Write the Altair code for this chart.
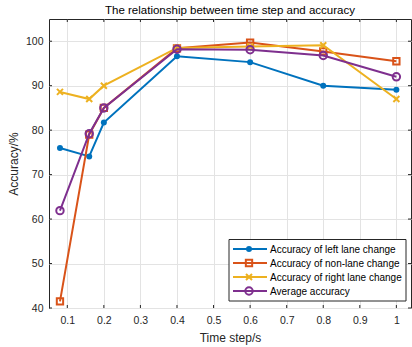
import altair as alt
import pandas as pd

# ---- data ----
time_steps = [0.08, 0.16, 0.2, 0.4, 0.6, 0.8, 1.0]
left_acc = [76.0, 74.1, 81.7, 96.6, 95.3, 90.0, 89.1]
non_acc = [41.5, 79.0, 85.0, 98.4, 99.7, 97.7, 95.5]
right_acc = [88.6, 87.0, 90.0, 98.5, 98.8, 99.1, 87.0]
avg_acc = [61.9, 79.2, 85.0, 98.2, 98.1, 96.8, 92.0]

series_names = [
    "Accuracy of left lane change",
    "Accuracy of non-lane change",
    "Accuracy of right lane change",
    "Average accuracy",
]
series_values = [left_acc, non_acc, right_acc, avg_acc]
colors = ["#0072BD", "#D95319", "#EDB120", "#7E2F8E"]
x_ticks = [0.1, 0.2, 0.3, 0.4, 0.5, 0.6, 0.7, 0.8, 0.9, 1.0]
y_ticks = [40, 50, 60, 70, 80, 90, 100]

XMARK = "M-1,-1L1,1M-1,1L1,-1"
shapes = ["circle", "square", XMARK, "circle"]
filled = [True, False, False, False]
sizes = [36, 40, 36, 55]

W, H = 362, 289
FONT = "Liberation Sans"
AX = "#262626"

rows = []
for name, vals in zip(series_names, series_values):
    for t, v in zip(time_steps, vals):
        rows.append({"t": t, "acc": v, "series": name})
df = pd.DataFrame(rows)

xscale = alt.Scale(domain=[0.05, 1.04], nice=False, zero=False)
yscale = alt.Scale(domain=[40, 105], nice=False, zero=False)

xenc = alt.X(
    "t:Q", scale=xscale,
    axis=alt.Axis(values=x_ticks, format="~g", title="Time step/s",
                  grid=True, gridColor="#e3e3e3", tickSize=0, domain=False,
                  labelPadding=7, titlePadding=7, labelFlush=False),
)
yenc = alt.Y(
    "acc:Q", scale=yscale,
    axis=alt.Axis(values=y_ticks, title="Accuracy/%", grid=True,
                  gridColor="#e3e3e3", tickSize=0, domain=False,
                  labelPadding=6, titlePadding=5),
)

layers = []
for i, name in enumerate(series_names):
    base = alt.Chart(df).transform_filter(alt.datum.series == name)
    layers.append(base.mark_line(color=colors[i], strokeWidth=2).encode(x=xenc, y=yenc))
    layers.append(
        base.mark_point(shape=shapes[i], color=colors[i], filled=filled[i],
                        size=sizes[i], strokeWidth=2, opacity=1)
        .encode(x="t:Q", y="acc:Q")
    )

# inner tick marks on all four sides
xt = pd.DataFrame({"v": x_ticks})
yt = pd.DataFrame({"v": y_ticks})
tick_layers = [
    alt.Chart(xt).mark_rule(color=AX, strokeWidth=1).encode(
        x=alt.X("v:Q", scale=xscale), y=alt.value(H), y2=alt.value(H - 3)),
    alt.Chart(xt).mark_rule(color=AX, strokeWidth=1).encode(
        x=alt.X("v:Q", scale=xscale), y=alt.value(0), y2=alt.value(3)),
    alt.Chart(yt).mark_rule(color=AX, strokeWidth=1).encode(
        y=alt.Y("v:Q", scale=yscale), x=alt.value(0), x2=alt.value(3)),
    alt.Chart(yt).mark_rule(color=AX, strokeWidth=1).encode(
        y=alt.Y("v:Q", scale=yscale), x=alt.value(W), x2=alt.value(W - 3)),
]

data_layer = alt.layer(*tick_layers, *layers)

# legend
leg = pd.DataFrame({"series": series_names, "idx": list(range(4))})
lx0, ly0, lstep = 180, 230, 14
legend_layers = [
    alt.Chart(leg).transform_filter(alt.datum.idx == 0).mark_rect(
        fill="white", stroke=AX, strokeWidth=1).encode(
        x=alt.value(lx0), x2=alt.value(W - 5),
        y=alt.value(ly0 - 9.5), y2=alt.value(ly0 + 3 * lstep + 10)),
]
for i, name in enumerate(series_names):
    lb = alt.Chart(leg).transform_filter(alt.datum.idx == i)
    yy = ly0 + i * lstep
    legend_layers.append(lb.mark_rule(color=colors[i], strokeWidth=2).encode(
        x=alt.value(lx0 + 4), x2=alt.value(lx0 + 38), y=alt.value(yy)))
    legend_layers.append(lb.mark_point(shape=shapes[i], color=colors[i], filled=filled[i],
                                       size=sizes[i], strokeWidth=2, opacity=1).encode(
        x=alt.value(lx0 + 20), y=alt.value(yy)))
    legend_layers.append(lb.mark_text(align="left", baseline="middle", font=FONT,
                                      fontSize=10, color="black").encode(
        x=alt.value(lx0 + 41), y=alt.value(yy + 0.5), text="series:N"))

chart = alt.layer(data_layer, *legend_layers).properties(
    width=W, height=H,
    title=alt.TitleParams("The relationship between time step and accuracy",
                          fontSize=11.5, fontWeight="normal", font=FONT,
                          color="black", offset=2),
    padding={"left": 49, "top": 19, "right": 1, "bottom": 39},
    autosize=alt.AutoSizeParams(type="none"),
).configure(background="white").configure_view(
    stroke=AX, strokeWidth=1
).configure_axis(
    labelFont=FONT, titleFont=FONT, labelFontSize=10.5, titleFontSize=12,
    labelColor=AX, titleColor=AX, titleFontWeight="normal",
)

chart.save("out.html", embed_options={"renderer": "svg", "actions": False})
